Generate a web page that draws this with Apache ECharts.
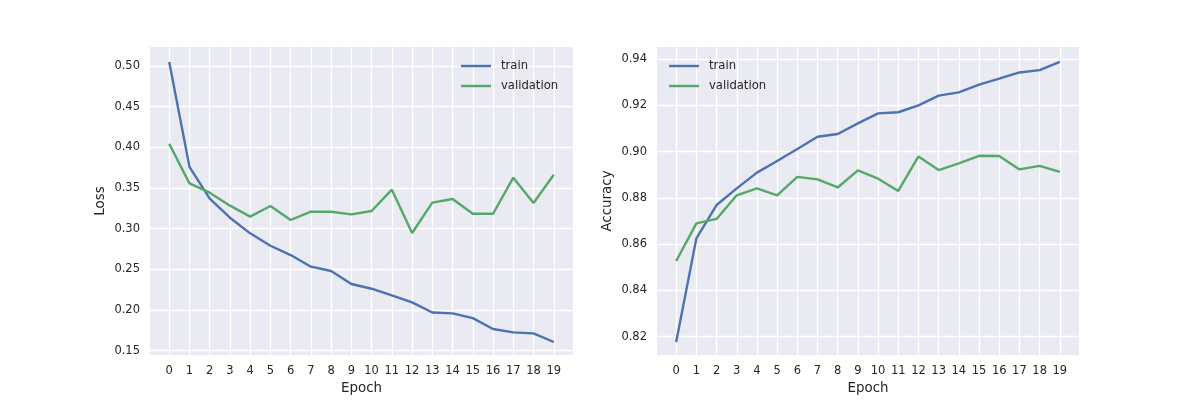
<!DOCTYPE html>
<html>
<head>
<meta charset="utf-8">
<script src="https://cdn.jsdelivr.net/npm/echarts@6/dist/echarts.min.js"></script>
<style>
  html, body { margin: 0; padding: 0; background: #fff; }
  #chart { width: 1200px; height: 400px; }
</style>
</head>
<body>
<div id="chart"></div>
<script>
const epochs = [0, 1, 2, 3, 4, 5, 6, 7, 8, 9, 10, 11, 12, 13, 14, 15, 16, 17, 18, 19]

const lossTrain = [0.505, 0.376, 0.337, 0.3135, 0.2943, 0.279, 0.2676, 0.2533, 0.248, 0.232,
	0.2262, 0.218, 0.2094, 0.197, 0.1959, 0.190, 0.1766, 0.1725, 0.1713, 0.1607]
const lossVal = [0.4045, 0.3557, 0.3443, 0.3283, 0.3148, 0.3279, 0.3107, 0.3209, 0.3209, 0.3176,
	0.3217, 0.348, 0.2947, 0.332, 0.3365, 0.3184, 0.3184, 0.3627, 0.3316, 0.3664]

const accTrain = [0.8177, 0.8625, 0.8769, 0.8841, 0.8909, 0.8959, 0.9011, 0.9064, 0.9076, 0.9122,
	0.9165, 0.917, 0.92, 0.9242, 0.9256, 0.9289, 0.9315, 0.9342, 0.9352, 0.9388]
const accVal = [0.8527, 0.869, 0.8709, 0.8811, 0.8841, 0.8811, 0.8891, 0.888, 0.8845, 0.8919,
	0.8883, 0.883, 0.8979, 0.892, 0.8949, 0.8982, 0.8981, 0.8923, 0.8938, 0.8912]

const lossTicks = [0.15, 0.2, 0.25, 0.3, 0.35, 0.4, 0.45, 0.5]
const accTicks = [0.82, 0.84, 0.86, 0.88, 0.9, 0.92, 0.94]

const BLUE = '#4C72B0'
const GREEN = '#55A868'
const TEXT = '#262626'
const FONT = 'DejaVu Sans'

const pairs = (ys) => epochs.map((x, i) => [x, ys[i]])

const xAxisFor = (gridIndex) => ({
	type: 'value',
	gridIndex,
	min: -0.95,
	max: 19.95,
	name: 'Epoch',
	nameLocation: 'middle',
	nameGap: 26,
	nameTextStyle: { color: TEXT, fontFamily: FONT, fontSize: 13.4 },
	axisLine: { show: false },
	axisTick: { show: false, customValues: epochs },
	axisLabel: { customValues: epochs, color: TEXT, fontFamily: FONT, fontSize: 11.5, margin: 10 },
	splitLine: { show: true, lineStyle: { color: '#ffffff', width: 1.3 } }
})

const yAxisFor = (gridIndex, name, min, max, ticks, digits) => ({
	type: 'value',
	gridIndex,
	min,
	max,
	name,
	nameLocation: 'middle',
	nameGap: 43,
	nameTextStyle: { color: TEXT, fontFamily: FONT, fontSize: 13.4 },
	axisLine: { show: false },
	axisTick: { show: false, customValues: ticks },
	axisLabel: {
		customValues: ticks,
		color: TEXT,
		fontFamily: FONT,
		fontSize: 11.5,
		margin: 10,
		formatter: (v) => v.toFixed(digits)
	},
	splitLine: { show: true, lineStyle: { color: '#ffffff', width: 1.3 } }
})

const lineSeries = (name, color, data, idx) => ({
	name,
	type: 'line',
	xAxisIndex: idx,
	yAxisIndex: idx,
	data,
	symbol: 'none',
	lineStyle: { color, width: 2.4 },
	itemStyle: { color },
	silent: true
})

const legendFor = (left) => ({
	orient: 'vertical',
	left,
	top: 60,
	padding: 0,
	itemGap: 8,
	itemWidth: 30,
	itemHeight: 2.4,
	icon: 'rect',
	data: ['train', 'validation'],
	textStyle: { color: TEXT, fontFamily: FONT, fontSize: 11.6, padding: [0, 0, 0, 5] }
})

const chart = echarts.init(document.getElementById('chart'))

chart.setOption({
	animation: false,
	backgroundColor: '#ffffff',
	grid: [
		{ left: 150, top: 47, width: 423, height: 308, show: true, backgroundColor: '#EAEAF2', borderWidth: 0 },
		{ left: 657, top: 47, width: 422, height: 308, show: true, backgroundColor: '#EAEAF2', borderWidth: 0 }
	],
	legend: [legendFor(461), legendFor(669)],
	xAxis: [xAxisFor(0), xAxisFor(1)],
	yAxis: [
		yAxisFor(0, 'Loss', 0.1447, 0.5234, lossTicks, 2),
		yAxisFor(1, 'Accuracy', 0.8121, 0.9452, accTicks, 2)
	],
	series: [
		lineSeries('train', BLUE, pairs(lossTrain), 0),
		lineSeries('validation', GREEN, pairs(lossVal), 0),
		lineSeries('train', BLUE, pairs(accTrain), 1),
		lineSeries('validation', GREEN, pairs(accVal), 1)
	]
})

window.addEventListener('resize', () => {
	chart.resize()
})
</script>
</body>
</html>
